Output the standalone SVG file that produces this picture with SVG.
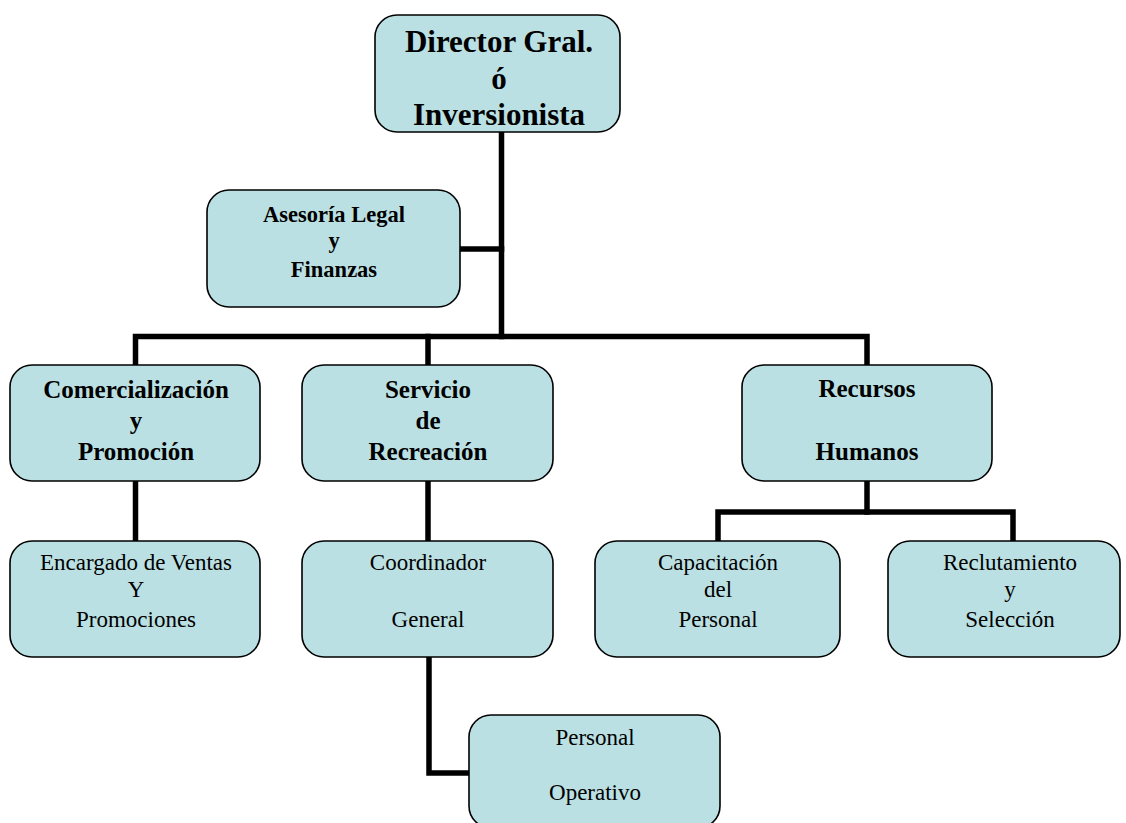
<svg xmlns="http://www.w3.org/2000/svg" width="1126" height="823" viewBox="0 0 1126 823">
<style>
.box{fill:#bbe0e3;stroke:#000;stroke-width:1.6}
.ln{fill:none;stroke:#000;stroke-width:5.5;stroke-linejoin:miter;stroke-linecap:square}
text{font-family:"Liberation Serif","Times New Roman",serif;text-anchor:middle;fill:#000}
.t1{font-size:31px;font-weight:bold}
.t2{font-size:25px;font-weight:bold}
.t2s{font-size:22.5px;font-weight:bold}
.t3{font-size:23px}
</style>
<rect width="1126" height="823" fill="#fff"/>
<g id="connectors">
<path class="ln" d="M501.5,132 V336.5"/>
<path class="ln" d="M460,249 H501.5"/>
<path class="ln" d="M135.5,365 V336.5 H867 V365"/>
<path class="ln" d="M428,336.5 V365"/>
<path class="ln" d="M135.5,481 V541"/>
<path class="ln" d="M428,481 V541"/>
<path class="ln" d="M867,481 V512"/>
<path class="ln" d="M718,541 V512 H1013 V541"/>
<path class="ln" d="M429,657 V773 H469"/>
</g>
<g id="director">
<rect class="box" x="375" y="15" width="245" height="117" rx="22"/>
<text class="t1" x="499" y="52">Director Gral.</text>
<text class="t1" x="499" y="89">ó</text>
<text class="t1" x="499" y="125">Inversionista</text>
</g>
<g id="asesoria">
<rect class="box" x="207" y="190" width="253" height="117" rx="22"/>
<text class="t2s" x="334" y="222">Asesoría Legal</text>
<text class="t2s" x="334" y="248">y</text>
<text class="t2s" x="334" y="277">Finanzas</text>
</g>
<g id="comercializacion">
<rect class="box" x="10" y="365" width="250" height="116" rx="22"/>
<text class="t2" x="136" y="398">Comercialización</text>
<text class="t2" x="136" y="429">y</text>
<text class="t2" x="136" y="460">Promoción</text>
</g>
<g id="servicio">
<rect class="box" x="302" y="365" width="251" height="116" rx="22"/>
<text class="t2" x="428" y="398">Servicio</text>
<text class="t2" x="428" y="429">de</text>
<text class="t2" x="428" y="460">Recreación</text>
</g>
<g id="recursos">
<rect class="box" x="742" y="365" width="250" height="116" rx="22"/>
<text class="t2" x="867" y="397">Recursos</text>
<text class="t2" x="867" y="460">Humanos</text>
</g>
<g id="encargado">
<rect class="box" x="10" y="541" width="250" height="116" rx="22"/>
<text class="t3" x="136" y="570">Encargado de Ventas</text>
<text class="t3" x="136" y="597">Y</text>
<text class="t3" x="136" y="627">Promociones</text>
</g>
<g id="coordinador">
<rect class="box" x="302" y="541" width="251" height="116" rx="22"/>
<text class="t3" x="428" y="570">Coordinador</text>
<text class="t3" x="428" y="627">General</text>
</g>
<g id="capacitacion">
<rect class="box" x="595" y="541" width="245" height="116" rx="22"/>
<text class="t3" x="718" y="570">Capacitación</text>
<text class="t3" x="718" y="597">del</text>
<text class="t3" x="718" y="627">Personal</text>
</g>
<g id="reclutamiento">
<rect class="box" x="888" y="541" width="232" height="116" rx="22"/>
<text class="t3" x="1010" y="570">Reclutamiento</text>
<text class="t3" x="1010" y="597">y</text>
<text class="t3" x="1010" y="627">Selección</text>
</g>
<g id="personal">
<rect class="box" x="469" y="715" width="251" height="113" rx="22"/>
<text class="t3" x="595" y="745">Personal</text>
<text class="t3" x="595" y="800">Operativo</text>
</g>
</svg>
